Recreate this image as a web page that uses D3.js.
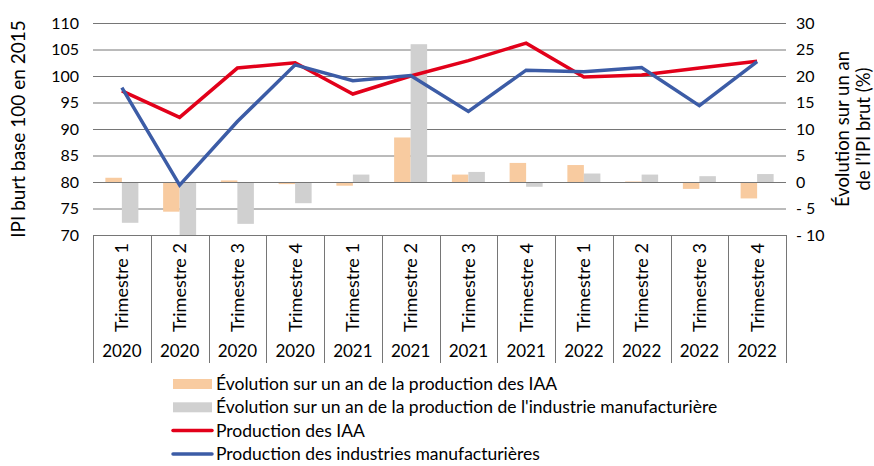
<!DOCTYPE html>
<html>
<head>
<meta charset="utf-8">
<script src="https://cdn.jsdelivr.net/npm/d3@7"></script>
<style>
  body { margin: 0; background: #fff; }
  svg text { font-family: Lato, "Open Sans", sans-serif; fill: #000; }
</style>
</head>
<body>
<svg id="chart" width="874" height="466"></svg>
<script>
// categories
const quarters = ['Trimestre 1', 'Trimestre 2', 'Trimestre 3', 'Trimestre 4',
  'Trimestre 1', 'Trimestre 2', 'Trimestre 3', 'Trimestre 4',
  'Trimestre 1', 'Trimestre 2', 'Trimestre 3', 'Trimestre 4'];
const years = ['2020', '2020', '2020', '2020', '2021', '2021', '2021', '2021',
  '2022', '2022', '2022', '2022'];

// bars, right axis (%)
const evolIAA = [0.8, -5.6, 0.3, -0.4, -0.7, 8.4, 1.4, 3.6, 3.2, 0.1, -1.3, -3.1];
const evolManuf = [-7.7, -12.5, -7.9, -4.0, 1.4, 26.0, 1.9, -0.9, 1.6, 1.4, 1.1, 1.5];

// lines, left axis (IPI base 100)
const prodIAA = [97.2, 92.2, 101.5, 102.5, 96.6, 100.0, 102.9, 106.2, 99.8, 100.2, 101.5, 102.8];
const prodManuf = [97.8, 79.4, 91.4, 102.1, 99.1, 100.1, 93.3, 101.1, 100.8, 101.6, 94.4, 102.7];

const leftTicks = [70, 75, 80, 85, 90, 95, 100, 105, 110];
const rightTicks = [-10, -5, 0, 5, 10, 15, 20, 25, 30];

const legendItems = [
  {label: 'Évolution sur un an de la production des IAA', type: 'bar', color: '#f8cba0'},
  {label: 'Évolution sur un an de la production de l\'industrie manufacturière', type: 'bar', color: '#d0d0d0'},
  {label: 'Production des IAA', type: 'line', color: '#e2001a'},
  {label: 'Production des industries manufacturières', type: 'line', color: '#3c5ca6'},
];

const plot = {left: 93, right: 786, top: 23, bottom: 235};
const svg = d3.select('#chart');

let idx = d3.range(quarters.length);
let x = d3.scaleBand().domain(idx).range([plot.left, plot.right]);
let x1 = d3.scaleBand().domain(['iaa', 'manuf'])
  .range([0, x.bandwidth()]).paddingOuter(0.75);
let yLeft = d3.scaleLinear().domain([70, 110]).range([plot.bottom, plot.top]);
let yRight = d3.scaleLinear().domain([-10, 30]).range([plot.bottom, plot.top]);

svg.append('clipPath').attr('id', 'clip')
  .append('rect')
    .attr('x', plot.left).attr('y', plot.top)
    .attr('width', plot.right - plot.left).attr('height', plot.bottom - plot.top);

// gridlines
svg.append('g').selectAll('line').data(leftTicks).join('line')
    .attr('x1', plot.left).attr('x2', plot.right)
    .attr('y1', d => yLeft(d) + 0.5).attr('y2', d => yLeft(d) + 0.5)
    .attr('stroke', '#767676').attr('stroke-width', 1);

// bars
let bars = svg.append('g').attr('clip-path', 'url(#clip)');
[['iaa', evolIAA, legendItems[0].color], ['manuf', evolManuf, legendItems[1].color]]
  .forEach(function(s) {
    bars.selectAll('rect.' + s[0]).data(s[1]).join('rect')
        .attr('class', s[0])
        .attr('x', (d, i) => x(i) + x1(s[0]))
        .attr('width', x1.bandwidth())
        .attr('y', d => yRight(Math.max(0, d)))
        .attr('height', d => Math.abs(yRight(d) - yRight(0)))
        .attr('fill', s[2]);
  });

// zero line over bars
svg.append('line')
    .attr('x1', plot.left).attr('x2', plot.right)
    .attr('y1', yRight(0) + 0.5).attr('y2', yRight(0) + 0.5)
    .attr('stroke', '#767676');

// lines
let line = d3.line()
  .x((d, i) => x(i) + x.bandwidth() / 2)
  .y(d => yLeft(d));

[[prodIAA, legendItems[2].color], [prodManuf, legendItems[3].color]].forEach(function(s) {
  svg.append('path')
      .datum(s[0])
      .attr('d', line)
      .attr('fill', 'none')
      .attr('stroke', s[1])
      .attr('stroke-width', 3.5)
      .attr('stroke-linejoin', 'miter');
});

// left ticks
svg.append('g').selectAll('text').data(leftTicks).join('text')
    .attr('x', 79).attr('y', d => yLeft(d))
    .attr('dy', '0.35em')
    .attr('text-anchor', 'end')
    .style('font-size', '16px')
    .text(d => d);

// right ticks
svg.append('g').selectAll('text').data(rightTicks).join('text')
    .attr('x', 796).attr('y', d => yRight(d))
    .attr('dy', '0.35em')
    .style('font-size', '16px')
    .text(d => d < 0 ? '- ' + Math.abs(d) : d);

// category axis
let catAxis = svg.append('g');
catAxis.selectAll('line').data(d3.range(quarters.length + 1)).join('line')
    .attr('x1', d => Math.round(plot.left + d * x.step()) + 0.5)
    .attr('x2', d => Math.round(plot.left + d * x.step()) + 0.5)
    .attr('y1', plot.bottom).attr('y2', 363)
    .attr('stroke', '#767676');

catAxis.selectAll('text.q').data(quarters).join('text')
    .attr('class', 'q')
    .attr('transform', (d, i) => 'translate(' + (x(i) + x.bandwidth() / 2 + 6.5) + ',287.5) rotate(-90)')
    .attr('text-anchor', 'middle')
    .style('font-size', '18px')
    .text(d => d);

catAxis.selectAll('text.y').data(years).join('text')
    .attr('class', 'y')
    .attr('x', (d, i) => x(i) + x.bandwidth() / 2)
    .attr('y', 357)
    .attr('text-anchor', 'middle')
    .style('font-size', '17px')
    .text(d => d);

// axis titles
svg.append('text')
    .attr('transform', 'translate(25,129) rotate(-90)')
    .attr('text-anchor', 'middle')
    .style('font-size', '19px')
    .text('IPI burt base 100 en 2015');

let rt = svg.append('text')
    .attr('transform', 'translate(849,129) rotate(-90)')
    .attr('text-anchor', 'middle')
    .style('font-size', '18.5px');
rt.append('tspan').attr('x', 0).attr('dy', 0).text('Évolution sur un an');
rt.append('tspan').attr('x', 0).attr('dy', '1.12em').text('de l\u2019IPI brut (%)');

// legend
let lg = svg.append('g').selectAll('g').data(legendItems).join('g')
    .attr('transform', (d, i) => 'translate(173,' + (384 + i * 23.3) + ')');

lg.filter(d => d.type === 'bar').append('rect')
    .attr('x', 0).attr('y', -5).attr('width', 39).attr('height', 10)
    .attr('fill', d => d.color);

lg.filter(d => d.type === 'line').append('line')
    .attr('x1', 0).attr('x2', 39).attr('y1', 0).attr('y2', 0)
    .attr('stroke', d => d.color).attr('stroke-width', 3.5)
    .attr('stroke-linecap', 'round');

lg.append('text')
    .attr('x', 43).attr('y', 0).attr('dy', '0.35em')
    .style('font-size', '17.5px')
    .text(d => d.label);
</script>
</body>
</html>
